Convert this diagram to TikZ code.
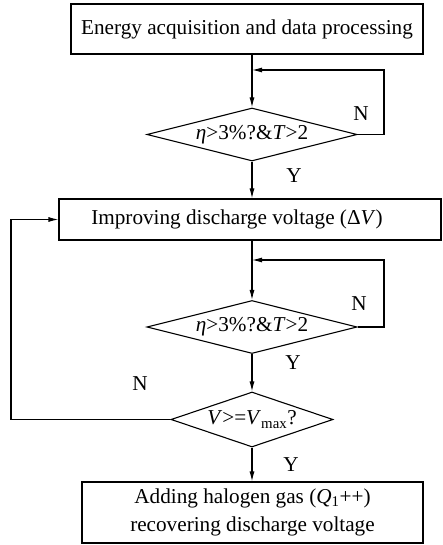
\documentclass[tikz,border=0pt]{standalone}
\usepackage{fontspec}
\setmainfont{Liberation Serif}
\usetikzlibrary{shapes.geometric,arrows.meta}
\begin{document}
\begin{tikzpicture}[x=1pt,y=-1pt,
  every node/.style={font=\fontsize{21.2}{28}\selectfont},
  line/.style={line width=1.1pt},
  arr/.style={line width=1.1pt,-{Latex[length=10pt,width=5pt]}},
  procbox/.style={draw,line width=1.1pt,rectangle,inner sep=0pt,align=center},
  decision/.style={draw,line width=1.1pt,diamond,aspect=4,inner sep=0pt},
  lbl/.style={inner sep=0pt}]
\useasboundingbox (0,0) rectangle (442,545);
\node[procbox,minimum width=352pt,minimum height=50pt] (b1) at (247,29) {Energy acquisition and data processing};
\node[decision,minimum width=210pt,minimum height=53pt] (d1) at (252,134.5) {\textit{η}>3\%?\&\textit{T}>2};
\node[procbox,minimum width=382pt,minimum height=41pt] (b2) at (250,219.5) {Improving discharge voltage (Δ\textit{V})\hspace*{26pt}};
\node[decision,minimum width=210pt,minimum height=53pt] (d2) at (252,327) {\textit{η}>3\%?\&\textit{T}>2};
\node[decision,minimum width=162pt,minimum height=55pt] (d3) at (252,419.5) {\textit{V}>=\textit{V}\textsubscript{max}?};
\node[procbox,minimum width=341pt,minimum height=61pt] (b3) at (252.5,512.5) {Adding halogen gas (\textit{Q}\textsubscript{1}++)\\recovering discharge voltage};
\coordinate (j1) at (252,70);
\coordinate (r1) at (384,70);
\coordinate (j2) at (252,260);
\coordinate (r2) at (384,260);
\coordinate (l1) at (11,420);
\coordinate (l2) at (11,219.5);
\draw[arr] (d1.north |- b1.south) -- (d1.north);
\draw[arr] (d1.east) -- (d1.east -| r1) -- (r1) -- (j1);
\draw[arr] (d1.south) -- (d1.south |- b2.north);
\draw[arr] (d2.north |- b2.south) -- (d2.north);
\draw[arr] (d2.east) -- (d2.east -| r2) -- (r2) -- (j2);
\draw[arr] (d2.south) -- (d3.north);
\draw[arr] (d3.west) -- (d3.west -| l1) -- (l2) -- (b2.west);
\draw[arr] (d3.south) -- (d3.south |- b3.north);
\node[lbl] (n1) at (361,114) {N};
\node[lbl] (y1) at (294,176) {Y};
\node[lbl] (n2) at (359,304) {N};
\node[lbl] (y2) at (293,363) {Y};
\node[lbl] (n3) at (140,384) {N};
\node[lbl] (y3) at (291,465) {Y};
\end{tikzpicture}
\end{document}
